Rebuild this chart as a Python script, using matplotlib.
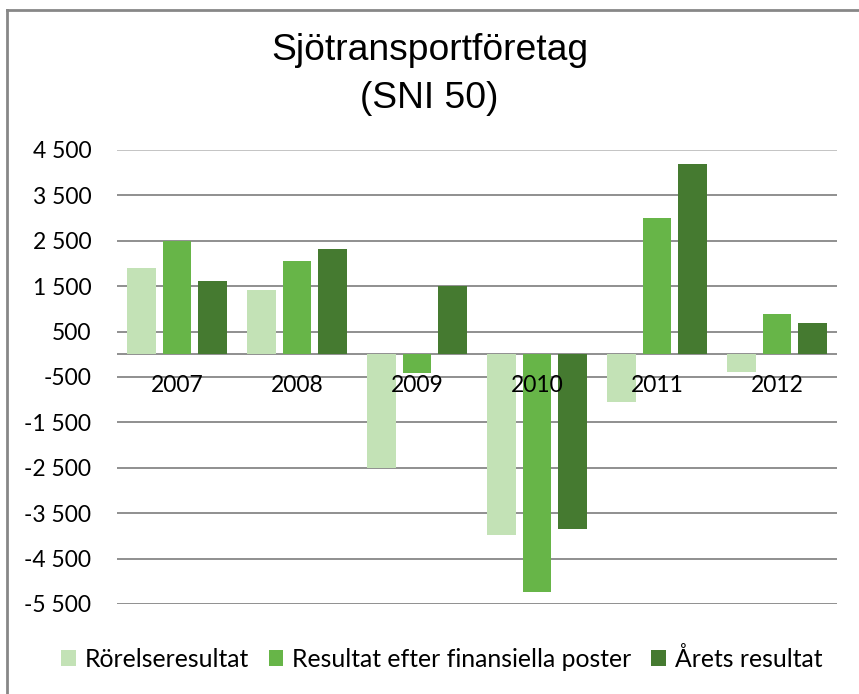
import matplotlib
matplotlib.use("Agg")
import matplotlib.pyplot as plt
from matplotlib.lines import Line2D
import numpy as np

years = ["2007", "2008", "2009", "2010", "2011", "2012"]
series_names = ["Rörelseresultat", "Resultat efter finansiella poster", "Årets resultat"]
rorelse = [1900, 1410, -2500, -3990, -1060, -400]
efter_fin = [2505, 2060, -410, -5225, 3000, 880]
arets = [1605, 2325, 1500, -3845, 4190, 685]
yticks = [4500, 3500, 2500, 1500, 500, -500, -1500, -2500, -3500, -4500, -5500]
ytick_labels = ["4 500", "3 500", "2 500", "1 500", "500", "-500", "-1 500",
                "-2 500", "-3 500", "-4 500", "-5 500"]
colors = ["#C3E2B6", "#67B548", "#457A30"]

font = "Lato"
fig = plt.figure(figsize=(8.59, 6.94), dpi=100)
ax = fig.add_axes([117/859, 1-604/694, (837-117)/859, (604-150)/694])

x = np.arange(len(years))
offsets = [-0.294, 0.0, 0.294]
for vals, off, c, name in zip([rorelse, efter_fin, arets], offsets, colors, series_names):
    ax.bar(x + off, vals, width=0.24, color=c, label=name, zorder=2)

ax.set_xlim(-0.5, len(years) - 0.5)
ax.set_ylim(-5500, 4500)
for t in yticks:
    ax.axhline(t, color="#BFBFBF" if t == 4500 else "#878787", lw=1.3, zorder=1)
ax.axhline(0, color="#878787", lw=1.3, zorder=1)

ax.set_yticks(yticks)
ax.set_yticklabels(ytick_labels, fontname=font, fontsize=16.5)
ax.tick_params(axis="y", length=0, pad=18.5)
ax.set_xticks([])
for s in ax.spines.values():
    s.set_visible(False)

for xi, lab in zip(x, years):
    ax.annotate(lab, (xi, 0), xytext=(0, -21), textcoords="offset pixels",
                ha="center", va="top", fontname=font, fontsize=16.5, zorder=5)

fig.text(0.5, 1-50/694, "Sjötransportföretag", ha="center", va="center",
         fontname="Liberation Sans", fontsize=26.8)
fig.text(0.5, 1-99/694, "(SNI 50)", ha="center", va="center",
         fontname="Liberation Sans", fontsize=26.8)

leg = fig.legend(loc="center", bbox_to_anchor=(0.514, 1-659/694), ncol=3, frameon=False,
                 prop={"family": font, "size": 17.8}, handlelength=0.6, handleheight=0.6,
                 handletextpad=0.35, columnspacing=0.8)

fig.add_artist(Line2D([7/859, 7/859], [-0.1, 1-10/694], color="#878787", lw=2,
                      transform=fig.transFigure))
fig.add_artist(Line2D([7/859, 1.1], [1-10/694, 1-10/694], color="#878787", lw=2,
                      transform=fig.transFigure))

fig.savefig("out.png", dpi=100)
